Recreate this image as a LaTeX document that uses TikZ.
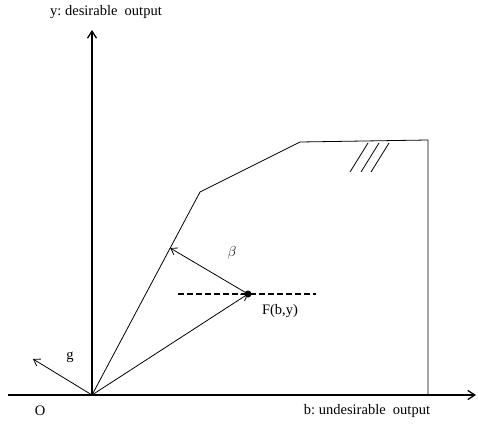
\documentclass[tikz,border=0pt]{standalone}
\usepackage{fontspec}
\setmainfont{Liberation Serif}
\usetikzlibrary{arrows.meta,calc}

\begin{document}
\begin{tikzpicture}[x=1pt, y=1pt,
  axis/.style={line width=1.3pt, -{Straight Barb[length=7pt,width=9pt]}},
  vec/.style={line width=0.8pt, -{Straight Barb[length=6pt,width=8pt]}},
  front/.style={line width=0.8pt},
  lbl/.style={font=\fontsize{14.5}{16}\selectfont, inner sep=1pt}
]
\useasboundingbox (0,0) rectangle (478,424);
% axes
\coordinate (O) at (92,29);
\coordinate (xstart) at (8,29);
\coordinate (xend) at (476,29);
\coordinate (yend) at (92,394);
\draw[axis] (xstart) -- (xend);
\draw[axis] (O) -- (yend);
\node[lbl] (ylabel) at (106,412) {y:\ desirable\ \ output};
\node[lbl] (blabel) at (367,13) {b:\ undesirable\ \ output};
\node[lbl] (olabel) at (40,13) {O};

% frontier
\coordinate (kinkA) at (200,232);
\coordinate (kinkB) at (300,282);
\coordinate (kinkC) at (428,284);
\coordinate (kinkD) at (428,29);
\draw[front] (O) -- (kinkA) -- (kinkB) -- (kinkC) -- (kinkD);
\foreach \dx in {0,11,21}
  \draw[line width=0.8pt] (350+\dx,252) -- (368+\dx,281);

% point F and directions
\coordinate (F) at (248,130);
\coordinate (dashL) at (178,130);
\coordinate (dashR) at (316,130);
\draw[line width=1.2pt, dash pattern=on 6pt off 3pt] (dashL) -- (dashR);
\draw[vec] (O) -- (F);
\fill (F) circle (3.5pt);
\coordinate (P) at ($(O)!0.724!(kinkA)$);
\draw[vec] (F) -- (P);
\coordinate (gtip) at (33,65);
\draw[vec] (O) -- (gtip);
\node[lbl] (beta) at (232,171) {$\beta$};
\node[lbl] (flabel) at (280,113) {F(b,y)};
\node[lbl] (glabel) at (70,67) {g};
\end{tikzpicture}
\end{document}
